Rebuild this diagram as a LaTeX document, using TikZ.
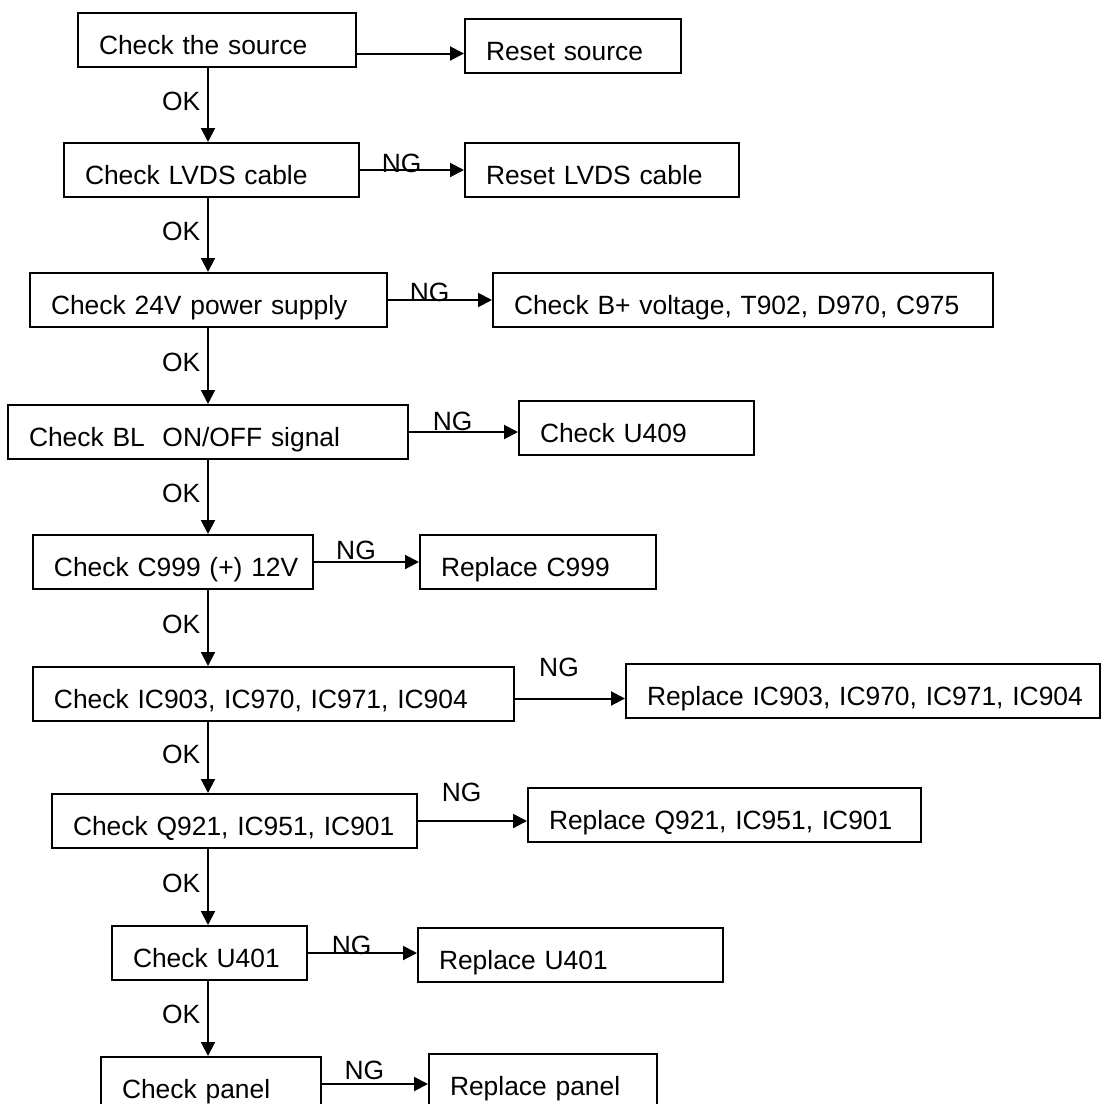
\documentclass[tikz,border=0pt]{standalone}
\usepackage{fontspec}
\setmainfont{Liberation Sans}
\usetikzlibrary{arrows.meta}

\begin{document}
\begin{tikzpicture}[
  x=0.5pt, y=-0.5pt,
  font=\fontsize{13.2}{15}\selectfont,
  box/.style={draw, line width=1pt, anchor=north west, minimum height=27pt, inner xsep=10.5pt, inner ysep=0pt, text height=17pt, text depth=2.5pt, align=left, text width=#1,
    execute at begin node=\hbox\bgroup, execute at end node=\egroup},
  line/.style={-{Triangle[length=7pt,width=7pt]}, line width=1pt},
  oklbl/.style={left, pos=0.45},
  nglbl/.style={anchor=base, pos=0.4, yshift=#1}
]
\fill[white] (0,0) rectangle (1101,1104);
\useasboundingbox (0,0) rectangle (1101,1104);
\coordinate (spine) at (208,0);

\node[box=118pt] (chk1) at (77,12) {Check the source};
\node[box=87pt] (fix1) at (464,18) {Reset source};
\node[box=126.5pt] (chk2) at (63,142) {Check LVDS cable};
\node[box=116pt] (fix2) at (464,142) {Reset LVDS cable};
\node[box=157.5pt] (chk3) at (29,272) {Check 24V power supply};
\node[box=229pt] (fix3) at (492,272) {Check B+ voltage, T902, D970, C975};
\node[box=179pt] (chk4) at (7,404) {Check BL\ \ ON/OFF signal};
\node[box=96.5pt] (fix4) at (518,400) {Check U409};
\node[box=119pt] (chk5) at (32,534) {Check C999 (+) 12V};
\node[box=97pt] (fix5) at (419,534) {Replace C999};
\node[box=219.5pt] (chk6) at (32,666) {Check IC903, IC970, IC971, IC904};
\node[box=216pt] (fix6) at (625,663) {Replace IC903, IC970, IC971, IC904};
\node[box=161.5pt] (chk7) at (51,793) {Check Q921, IC951, IC901};
\node[box=175.5pt] (fix7) at (527,787) {Replace Q921, IC951, IC901};
\node[box=76.5pt] (chk8) at (111,925) {Check U401};
\node[box=131.5pt] (fix8) at (417,927) {Replace U401};
\node[box=89pt] (chk9) at (100,1056) {Check panel};
\node[box=93pt] (fix9) at (428,1053) {Replace panel};

% OK path down the left column
\draw[line] (chk1.south -| spine) -- node[oklbl] {OK} (chk2.north -| spine);
\draw[line] (chk2.south -| spine) -- node[oklbl] {OK} (chk3.north -| spine);
\draw[line] (chk3.south -| spine) -- node[oklbl] {OK} (chk4.north -| spine);
\draw[line] (chk4.south -| spine) -- node[oklbl] {OK} (chk5.north -| spine);
\draw[line] (chk5.south -| spine) -- node[oklbl] {OK} (chk6.north -| spine);
\draw[line] (chk6.south -| spine) -- node[oklbl] {OK} (chk7.north -| spine);
\draw[line] (chk7.south -| spine) -- node[oklbl] {OK} (chk8.north -| spine);
\draw[line] (chk8.south -| spine) -- node[oklbl] {OK} (chk9.north -| spine);

% NG branches to the right
\draw[line] ([yshift=-6.75pt]chk1.east) -- ([yshift=-6.75pt]chk1.east -| fix1.west);
\draw[line] (chk2.east) -- node[nglbl=-1.2pt] {NG} (chk2.east -| fix2.west);
\draw[line] (chk3.east) -- node[nglbl=-0.75pt] {NG} (chk3.east -| fix3.west);
\draw[line] (chk4.east) -- node[nglbl=0.75pt] {NG} (chk4.east -| fix4.west);
\draw[line] (chk5.east) -- node[nglbl=1.25pt] {NG} (chk5.east -| fix5.west);
\draw[line] ([yshift=-2.25pt]chk6.east) -- node[nglbl=11.25pt] {NG} ([yshift=-2.25pt]chk6.east -| fix6.west);
\draw[line] (chk7.east) -- node[nglbl=9.75pt] {NG} (chk7.east -| fix7.west);
\draw[line] (chk8.east) -- node[nglbl=-0.75pt] {NG} (chk8.east -| fix8.west);
\draw[line] (chk9.east) -- node[nglbl=2.25pt] {NG} (chk9.east -| fix9.west);
\end{tikzpicture}
\end{document}
